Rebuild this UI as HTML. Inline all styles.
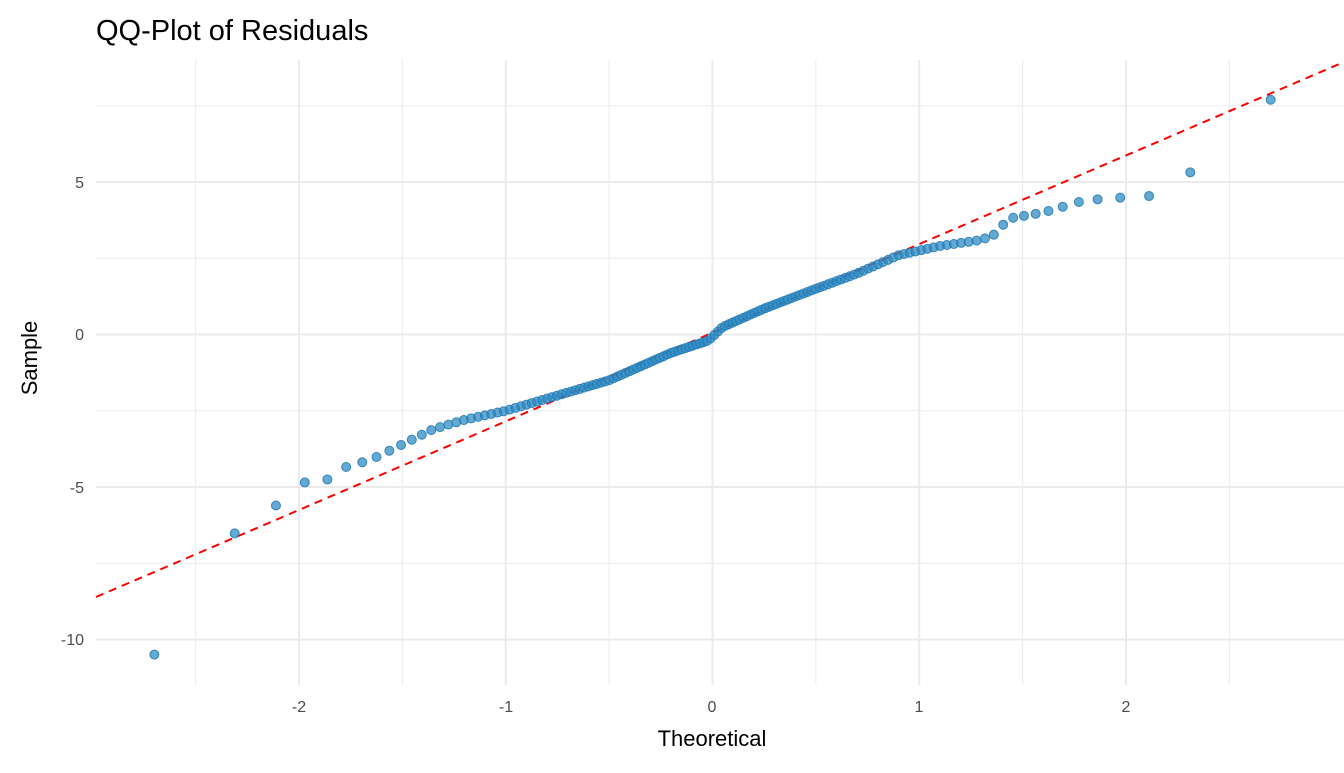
<!DOCTYPE html>
<html><head><meta charset="utf-8"><style>
body{margin:0;background:#fff}
svg text{font-family:"Liberation Sans",sans-serif}
</style></head><body>
<svg id="s" width="1344" height="768" xmlns="http://www.w3.org/2000/svg">
<rect width="1344" height="768" fill="#fff"/>
<g id="grid"></g>
<line x1="96" y1="597" x2="1344" y2="62" stroke="#ff0000" stroke-width="2" stroke-dasharray="8,6"/>
<g id="pts"></g>
<text x="96" y="40" font-size="29" fill="#000">QQ-Plot of Residuals</text>
<g font-size="16" fill="#4d4d4d" text-anchor="end">
<text x="84" y="188">5</text><text x="84" y="340">0</text><text x="84" y="493">-5</text><text x="84" y="645">-10</text>
</g>
<g font-size="16" fill="#4d4d4d" text-anchor="middle">
<text x="299" y="712">-2</text><text x="506" y="712">-1</text><text x="712" y="712">0</text><text x="919" y="712">1</text><text x="1126" y="712">2</text>
</g>
<text x="712" y="746" font-size="22" text-anchor="middle" fill="#000">Theoretical</text>
<text transform="translate(37,358) rotate(-90)" font-size="22" text-anchor="middle" fill="#000">Sample</text>
</svg>
<script>
var X=function(t){return 712.5+206.75*t},Y=function(v){return 334.5-30.5*v};
var g=document.getElementById('grid'),ns='http://www.w3.org/2000/svg';
function ln(x1,y1,x2,y2,w){var l=document.createElementNS(ns,'line');l.setAttribute('x1',x1);l.setAttribute('y1',y1);l.setAttribute('x2',x2);l.setAttribute('y2',y2);l.setAttribute('stroke','#ebebeb');l.setAttribute('stroke-width',w);g.appendChild(l);}
[-2.5,-1.5,-0.5,0.5,1.5,2.5].forEach(function(t){ln(X(t),60,X(t),685,1);});
[-2,-1,0,1,2].forEach(function(t){ln(X(t),60,X(t),685,2);});
[-7.5,-2.5,2.5,7.5].forEach(function(v){ln(96,Y(v),1344,Y(v),1);});
[-10,-5,0,5].forEach(function(v){ln(96,Y(v),1344,Y(v),2);});
function qn(p){var a=[-39.69683028665376,220.9460984245205,-275.9285104469687,138.357751867269,-30.66479806614716,2.506628277459239],b=[-54.47609879822406,161.5858368580409,-155.6989798598866,66.80131188771972,-13.28068155288572],c=[-0.007784894002430293,-0.3223964580411365,-2.400758277161838,-2.549732539343734,4.374664141464968,2.938163982698783],d=[0.007784695709041462,0.3224671290700398,2.445134137142996,3.754408661907416];var q,r;if(p<0.02425){q=Math.sqrt(-2*Math.log(p));return(((((c[0]*q+c[1])*q+c[2])*q+c[3])*q+c[4])*q+c[5])/((((d[0]*q+d[1])*q+d[2])*q+d[3])*q+1);}if(p>1-0.02425){q=Math.sqrt(-2*Math.log(1-p));return-(((((c[0]*q+c[1])*q+c[2])*q+c[3])*q+c[4])*q+c[5])/((((d[0]*q+d[1])*q+d[2])*q+d[3])*q+1);}q=p-0.5;r=q*q;return(((((a[0]*r+a[1])*r+a[2])*r+a[3])*r+a[4])*r+a[5])*q/(((((b[0]*r+b[1])*r+b[2])*r+b[3])*r+b[4])*r+1);}
var K=[[-2.8,-10.5],[-2.70,-10.5],[-2.33,-6.6],[-2.14,-5.8],[-2.0,-4.85],[-1.88,-4.85],[-1.8,-4.4],[-1.65,-4.1],[-1.5,-3.6],[-1.35,-3.1],[-1.2,-2.8],[-1.0,-2.5],[-0.8,-2.1],[-0.5,-1.5],[-0.2,-0.6],[-0.02,-0.2],[0.05,0.25],[0.25,0.85],[0.5,1.5],[0.7,2.0],[0.9,2.6],[1.1,2.9],[1.3,3.1],[1.37,3.3],[1.43,3.8],[1.6,4.0],[1.8,4.4],[2.0,4.5],[2.14,4.55],[2.33,5.4],[2.70,7.7],[2.8,7.7]];
function f(t){for(var i=1;i<K.length;i++){if(t<=K[i][0]){var a=K[i-1],b=K[i];return a[1]+(b[1]-a[1])*(t-a[0])/(b[0]-a[0]);}}return 7.7;}
var P=document.getElementById('pts'),n=144;
for(var i=1;i<=n;i++){var t=qn((i-0.5)/n);var c=document.createElementNS(ns,'circle');c.setAttribute('cx',X(t));c.setAttribute('cy',Y(f(t)));c.setAttribute('r',4.5);c.setAttribute('fill','rgba(40,136,192,0.72)');c.setAttribute('stroke','rgba(30,120,180,0.85)');c.setAttribute('stroke-width',1);P.appendChild(c);}
</script>
</body></html>
